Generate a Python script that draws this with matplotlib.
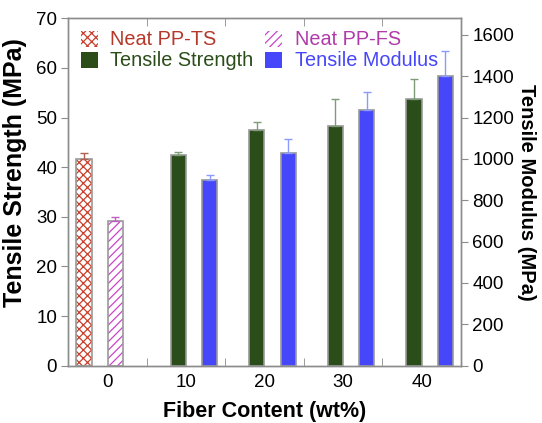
import matplotlib
matplotlib.use("Agg")
import matplotlib.pyplot as plt
from matplotlib.patches import Patch
import numpy as np

plt.rcParams['font.family'] = ['Liberation Sans', 'DejaVu Sans']
plt.rcParams['hatch.linewidth'] = 0.9

categories = ['0', '10', '20', '30', '40']

neat_ts = [41.6]
neat_ts_err = [1.2]
neat_fs = [29.1]
neat_fs_err = [0.8]

tensile_strength = [42.4, 47.5, 48.2, 53.7]
tensile_strength_err = [0.6, 1.7, 5.5, 4.0]

tensile_modulus = [897, 1027, 1237, 1402]
tensile_modulus_err = [25, 68, 86, 121]

c_ts_neat = '#C8402C'
c_fs_neat = '#CC44CC'
c_ts = '#2B4D1A'
c_tm = '#4646FA'
c_edge = '#999999'
c_spine = '#8C8C8C'

fig = plt.figure(figsize=(5.42, 4.23), dpi=100)
ax = fig.add_axes([0.126, 0.1355, 0.7246, 0.8212])
ax2 = ax.twinx()

w = 0.195
x_neat = np.array([0])
x_fill = np.arange(1, 5)

# neat PP-TS (hatched)
ax.bar(x_neat - 0.3, neat_ts, w, color='white', edgecolor=c_ts_neat, hatch='xxxx', linewidth=0, zorder=2)
ax.bar(x_neat - 0.3, neat_ts, w, fill=False, edgecolor=c_edge, linewidth=1.2, zorder=3)
ax.errorbar(x_neat - 0.3, neat_ts, yerr=[[0], neat_ts_err], fmt='none', ecolor='#B06050', capsize=3, elinewidth=1, zorder=4)

# neat PP-FS (hatched)
ax.bar(x_neat + 0.1, neat_fs, w, color='white', edgecolor=c_fs_neat, hatch='////', linewidth=0, zorder=2)
ax.bar(x_neat + 0.1, neat_fs, w, fill=False, edgecolor=c_edge, linewidth=1.2, zorder=3)
ax.errorbar(x_neat + 0.1, neat_fs, yerr=[[0], neat_fs_err], fmt='none', ecolor='#C060C0', capsize=3, elinewidth=1, zorder=4)

# tensile strength
ax.bar(x_fill - 0.1, tensile_strength, w, color=c_ts, edgecolor=c_edge, linewidth=1.2, zorder=3)
ax.errorbar(x_fill - 0.1, tensile_strength, yerr=[[0] * 4, tensile_strength_err], fmt='none',
            ecolor='#7E9C78', capsize=3, elinewidth=1, zorder=4)

# tensile modulus
ax2.bar(x_fill + 0.3, tensile_modulus, w, color=c_tm, edgecolor=c_edge, linewidth=1.2, zorder=3)
ax2.errorbar(x_fill + 0.3, tensile_modulus, yerr=[[0] * 4, tensile_modulus_err], fmt='none',
             ecolor='#8A9AFF', capsize=3, elinewidth=1, zorder=4)

ax.set_xlim(-0.5, 4.5)
ax.set_ylim(0, 70)
ax2.set_ylim(0, 1680)
ax.set_yticks(np.arange(0, 71, 10))
ax2.set_yticks(np.arange(0, 1601, 200))
ax.set_xticks(np.arange(5))
ax.set_xticklabels(categories)
ax.set_xticks(np.arange(0.5, 4, 1), minor=True)

ax.tick_params(axis='x', which='major', length=0, pad=6, labelsize=13.5)
ax.tick_params(axis='x', which='minor', direction='in', length=6, top=True, bottom=True, color=c_spine)
ax.tick_params(axis='y', direction='out', length=5, color=c_spine, labelsize=13.5, pad=3)
ax2.tick_params(axis='y', direction='out', length=5, color=c_spine, labelsize=13.5, pad=3)

for a in (ax, ax2):
    for s in a.spines.values():
        s.set_color(c_spine)
        s.set_linewidth(1.0)

ax.set_xlabel('Fiber Content (wt%)', fontsize=15.5, fontweight='bold', labelpad=7)
ax.set_ylabel('Tensile Strength (MPa)', fontsize=18, fontweight='bold')
ax.yaxis.set_label_coords(-0.104, 0.557)
ax2.set_ylabel('Tensile Modulus (MPa)', fontsize=14.5, fontweight='bold', rotation=270, labelpad=16)

handles = [
    Patch(facecolor='white', edgecolor=c_ts_neat, hatch='xxxx', linewidth=0),
    Patch(facecolor=c_ts, edgecolor='none'),
    Patch(facecolor='white', edgecolor=c_fs_neat, hatch='////', linewidth=0),
    Patch(facecolor=c_tm, edgecolor='none'),
]
labels = ['Neat PP-TS', 'Tensile Strength', 'Neat PP-FS', 'Tensile Modulus']
ax2.legend(handles, labels, ncol=2, loc='upper left', bbox_to_anchor=(0.0316, 0.965), frameon=False,
           fontsize=14.3, handlelength=0.85, handleheight=0.85, handletextpad=0.65,
           columnspacing=0.57, labelspacing=0.1, borderaxespad=0, borderpad=0,
           labelcolor=['#B5382A', c_ts, '#B03AA8', c_tm])

fig.savefig('out.png', dpi=100)
